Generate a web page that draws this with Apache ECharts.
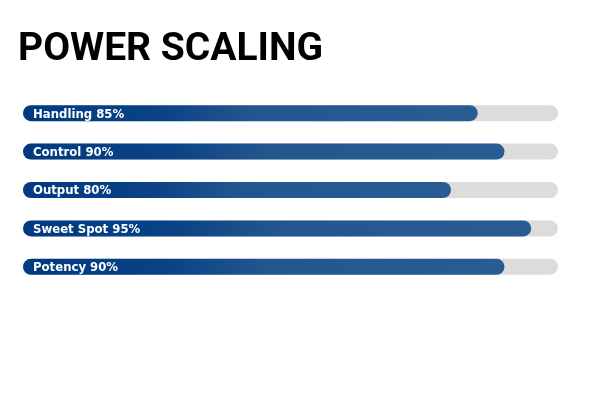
<!DOCTYPE html>
<html><head><meta charset="utf-8">
<script src="https://cdn.jsdelivr.net/npm/echarts@6/dist/echarts.min.js"></script>
<style>body{margin:0}#c{width:612px;height:413px}</style>
</head><body><div id="c"></div>
<script>
var categories = ['Handling', 'Control', 'Output', 'Sweet Spot', 'Potency'];
var values = [85, 90, 80, 95, 90];
var font = '"DejaVu Sans Condensed", "Roboto", sans-serif';

var chart = echarts.init(document.getElementById('c'));
chart.setOption({
    backgroundColor: '#fff',
    animation: false,
    title: {
        text: 'POWER SCALING', left: 13, top: 26,
        textStyle: {fontFamily: 'Roboto', fontSize: 39, fontWeight: 'bold', color: '#000'}
    },
    grid: {left: 23, right: 54, top: 94, bottom: 127},
    xAxis: {type: 'value', min: 0, max: 100, show: false},
    yAxis: {
        type: 'category', data: categories, inverse: true, show: false
    },
    series: [{
        type: 'bar',
        data: values,
        barWidth: 16,
        showBackground: true,
        backgroundStyle: {color: '#dcdcdc', borderRadius: 8},
        itemStyle: {
            borderRadius: 8,
            color: new echarts.graphic.LinearGradient(0, 0, 1, 0, [
                {offset: 0, color: '#003a80'},
                {offset: 0.3, color: '#0a4285'},
                {offset: 0.5, color: '#23568f'},
                {offset: 1, color: '#2a5c94'}
            ])
        },
        label: {
            show: true, position: 'insideLeft', offset: [5, 1],
            fontFamily: font, fontSize: 13, fontWeight: 'bold', color: '#fff',
            formatter: function (p) { return p.name + ' ' + p.value + '%'; }
        }
    }]
});
</script></body></html>
